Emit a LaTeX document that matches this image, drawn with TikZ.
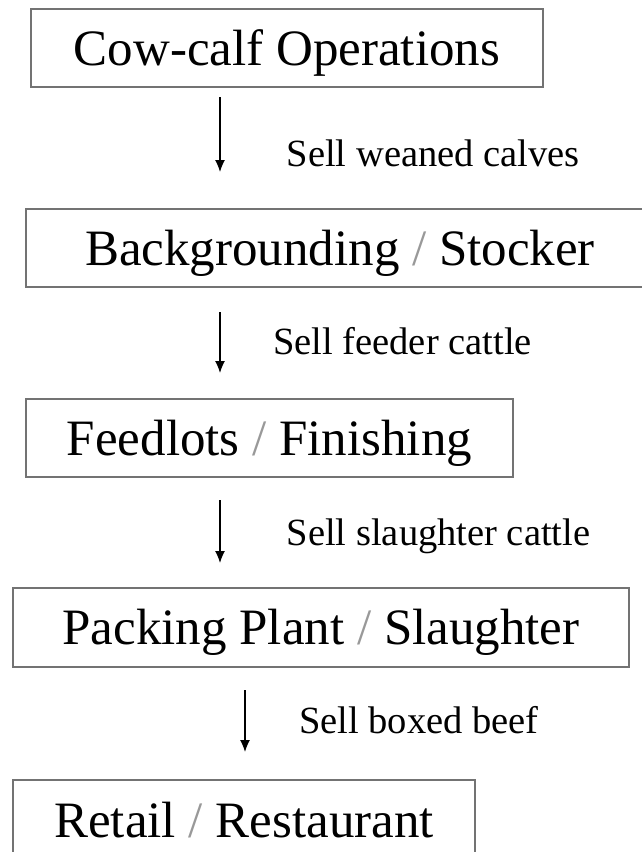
\documentclass[tikz,border=0pt]{standalone}
\usepackage{fontspec}
\setmainfont{Liberation Serif}
\usetikzlibrary{arrows.meta}
\newcommand{\graysl}{\textcolor{black!40}{/}}
\begin{document}
\begin{tikzpicture}[x=1pt,y=-1pt,
  stagebox/.style={draw=black!55, line width=1.8pt, inner sep=0pt,
    font=\fontsize{51}{60}\selectfont, text height=34pt, text depth=0pt},
  flow/.style={line width=1.3pt, -{Latex[length=12pt,width=10pt]}},
  lbl/.style={anchor=base west, inner sep=0pt, font=\fontsize{38.5}{44}\selectfont}]
\useasboundingbox (0,0) rectangle (642,852);
\node[stagebox, minimum width=512pt, minimum height=78pt] (b1) at (287,48) {Cow-calf Operations};
\node[stagebox, minimum width=628pt, minimum height=78pt] (b2) at (340,248) {Backgrounding \graysl{} Stocker};
\node[stagebox, minimum width=487pt, minimum height=78pt] (b3) at (269.5,438) {Feedlots \graysl{} Finishing};
\node[stagebox, minimum width=616pt, minimum height=79pt] (b4) at (321,627.5) {Packing Plant \graysl{} Slaughter};
\node[stagebox, minimum width=462pt, minimum height=80pt] (b5) at (244,820) {Retail \graysl{} Restaurant};

\coordinate (a1s) at (220,97);  \coordinate (a1e) at (220,172);
\coordinate (a2s) at (220,312); \coordinate (a2e) at (220,373);
\coordinate (a3s) at (220,500); \coordinate (a3e) at (220,563);
\coordinate (a4s) at (245,690); \coordinate (a4e) at (245,752);
\draw[flow] (a1s) -- (a1e);
\draw[flow] (a2s) -- (a2e);
\draw[flow] (a3s) -- (a3e);
\draw[flow] (a4s) -- (a4e);

\node[lbl] (l1) at (286.5,166) {Sell weaned calves};
\node[lbl] (l2) at (273,354) {Sell feeder cattle};
\node[lbl] (l3) at (286.5,545) {Sell slaughter cattle};
\node[lbl] (l4) at (299,733) {Sell boxed beef};
\end{tikzpicture}
\end{document}
